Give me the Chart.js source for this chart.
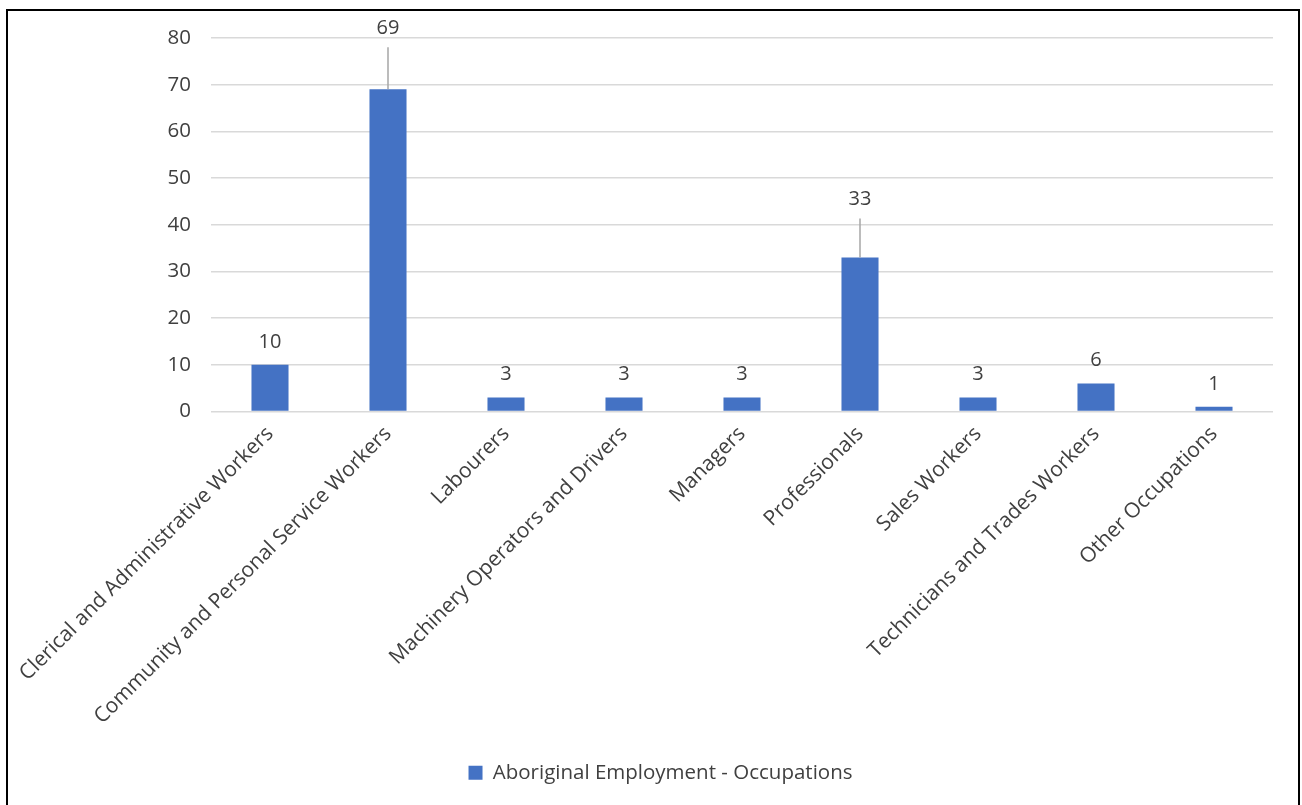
<!DOCTYPE html>
<html>
<head>
<meta charset="utf-8">
<script src="https://cdn.jsdelivr.net/npm/chart.js@4.4.0/dist/chart.umd.min.js"></script>
<style>
  html, body { margin: 0; padding: 0; background: #fff; overflow: hidden; }
  #frame {
    position: absolute; left: 6px; top: 9px;
    width: 1294px; height: 810px;
    border: 2px solid #000; box-sizing: border-box;
  }
  #chartBox { position: absolute; left: 0; top: 0; width: 1290px; height: 806px; }
</style>
</head>
<body>
<div id="frame">
  <div id="chartBox"><canvas id="occChart"></canvas></div>
</div>
<script>
const categories = [
  'Clerical and Administrative Workers',
  'Community and Personal Service Workers',
  'Labourers',
  'Machinery Operators and Drivers',
  'Managers',
  'Professionals',
  'Sales Workers',
  'Technicians and Trades Workers',
  'Other Occupations'
];
const employees = [10, 69, 3, 3, 3, 33, 3, 6, 1];
const yTicks = [0, 10, 20, 30, 40, 50, 60, 70, 80];
const seriesName = 'Aboriginal Employment - Occupations';

const textColor = '#404040';
const fontFamily = "'Open Sans', 'Noto Sans', sans-serif";

// labels that sit higher with a leader line (index -> extra lift in px)
const leaderLift = { 1: 38, 5: 35 };

const barLabels = {
    id: 'barLabels',
    afterDatasetsDraw(chart) {
        const ctx = chart.ctx;
        const meta = chart.getDatasetMeta(0);
        ctx.save();
        ctx.font = '20px ' + fontFamily;
        ctx.fillStyle = textColor;
        ctx.textAlign = 'center';
        ctx.textBaseline = 'middle';
        meta.data.forEach((bar, i) => {
            const lift = leaderLift[i] || 0;
            const ly = bar.y - 23 - lift;
            if (lift) {
                ctx.strokeStyle = '#a6a6a6';
                ctx.lineWidth = 1.5;
                ctx.beginPath();
                ctx.moveTo(bar.x, bar.y);
                ctx.lineTo(bar.x, ly + 19);
                ctx.stroke();
            }
            ctx.fillText(String(employees[i]), bar.x, ly);
        });
        ctx.restore();
    }
};

// legend in the original sits a bit right of the canvas centre
const legendShift = {
    id: 'legendShift',
    afterLayout(chart) {
        chart.legend.left += 20;
        chart.legend.right += 20;
    }
};

const ctx = document.getElementById('occChart').getContext('2d');
new Chart(ctx, {
    type: 'bar',
    data: {
        labels: categories,
        datasets: [{
            label: seriesName,
            data: employees,
            backgroundColor: '#4472C4',
            borderWidth: 0,
            categoryPercentage: 1,
            barPercentage: 0.314
        }]
    },
    options: {
        responsive: true,
        maintainAspectRatio: false,
        animation: false,
        layout: { autoPadding: false, padding: { top: 27, right: 25, bottom: 24, left: 0 } },
        plugins: {
            legend: {
                position: 'bottom',
                labels: {
                    boxWidth: 14,
                    boxHeight: 14,
                    padding: 10,
                    color: textColor,
                    font: { family: fontFamily, size: 20.5 }
                }
            },
            tooltip: { enabled: false }
        },
        scales: {
            y: {
                min: 0,
                max: 80,
                afterBuildTicks(scale) {
                    scale.ticks = yTicks.map(v => ({ value: v }));
                },
                afterFit(scale) {
                    scale.width = 203;
                    scale.paddingTop = 0;
                    scale.paddingBottom = 0;
                },
                border: { display: false },
                grid: { color: '#d9d9d9', lineWidth: 1.5, drawTicks: false },
                ticks: {
                    padding: 20,
                    color: textColor,
                    font: { family: fontFamily, size: 20.5 }
                }
            },
            x: {
                afterFit(scale) {
                    scale.height = 341;
                    scale.paddingLeft = 0;
                    scale.paddingRight = 0;
                },
                border: { display: false },
                grid: { display: false, drawTicks: false },
                ticks: {
                    minRotation: 45,
                    maxRotation: 45,
                    padding: 10,
                    autoSkip: false,
                    color: textColor,
                    font: { family: fontFamily, size: 21 }
                }
            }
        }
    },
    plugins: [barLabels, legendShift]
});
</script>
</body>
</html>
